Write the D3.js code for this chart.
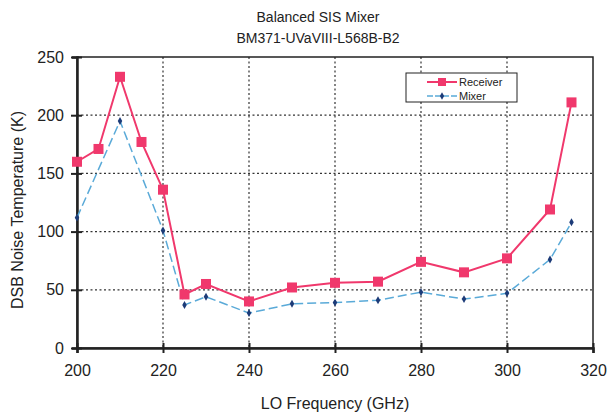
<!DOCTYPE html>
<html>
<head>
<meta charset="utf-8">
<script src="https://cdn.jsdelivr.net/npm/d3@7"></script>
<style>
  body { margin: 0; background: #fff; }
  text { font-family: "Liberation Sans", Arial, sans-serif; fill: #222; }
</style>
</head>
<body>
<div id="chart"></div>
<script>
"use strict";

// LO frequency (GHz) and DSB noise temperature (K)
const receiverFreq = [200, 205, 210, 215, 220, 225, 230, 240, 250, 260, 270, 280, 290, 300, 310, 315];
const receiverTemp = [160, 171, 233, 177, 136, 46, 55, 40, 52, 56, 57, 74, 65, 77, 119, 211];
const mixerFreq = [200, 210, 220, 225, 230, 240, 250, 260, 270, 280, 290, 300, 310, 315];
const mixerTemp = [112, 195, 101, 37, 44, 30, 38, 39, 41, 48, 42, 47, 76, 108];
const xTicks = [200, 220, 240, 260, 280, 300, 320];
const yTicks = [0, 50, 100, 150, 200, 250];

const width = 612, height = 416;
const plotL = 77, plotR = 593, plotT = 57, plotB = 348;

const x = d3.scaleLinear([200, 320], [plotL, plotR]);
const y = d3.scaleLinear([0, 250], [plotB, plotT]);

const svg = d3.select("#chart").append("svg")
    .attr("width", width)
    .attr("height", height);

// titles
svg.append("text")
    .attr("x", 318).attr("y", 22)
    .attr("text-anchor", "middle")
    .attr("font-size", 14)
    .text("Balanced SIS Mixer");
svg.append("text")
    .attr("x", 318).attr("y", 43)
    .attr("text-anchor", "middle")
    .attr("font-size", 14)
    .text("BM371-UVaVIII-L568B-B2");

// grid
svg.append("g")
    .selectAll("line")
    .data(xTicks.slice(1, -1))
    .join("line")
    .attr("x1", d => x(d)).attr("x2", d => x(d))
    .attr("y1", plotT).attr("y2", plotB)
    .attr("stroke", "#333")
    .attr("stroke-width", 1.2)
    .attr("stroke-dasharray", "2,2.5");
svg.append("g")
    .selectAll("line")
    .data(yTicks.slice(1, -1))
    .join("line")
    .attr("x1", plotL).attr("x2", plotR)
    .attr("y1", d => y(d)).attr("y2", d => y(d))
    .attr("stroke", "#333")
    .attr("stroke-width", 1.2)
    .attr("stroke-dasharray", "2,2.5");

// frame
svg.append("rect")
    .attr("x", plotL).attr("y", plotT)
    .attr("width", plotR - plotL).attr("height", plotB - plotT)
    .attr("fill", "none")
    .attr("stroke", "#222")
    .attr("stroke-width", 1.5);

// axes
svg.append("g")
    .attr("transform", `translate(0,${plotB})`)
    .call(d3.axisBottom(x).tickValues(xTicks).tickSize(5).tickPadding(12))
    .call(g => g.select(".domain").attr("stroke-width", 2.5).attr("stroke", "#222"))
    .call(g => g.selectAll(".tick line").attr("y1", -5).attr("stroke-width", 2).attr("stroke", "#222"))
    .call(g => g.selectAll(".tick text").attr("font-size", 16).attr("font-family", "Liberation Sans, Arial, sans-serif").attr("fill", "#222"));

svg.append("g")
    .attr("transform", `translate(${plotL},0)`)
    .call(d3.axisLeft(y).tickValues(yTicks).tickSize(5).tickPadding(8))
    .call(g => g.select(".domain").attr("stroke-width", 2.5).attr("stroke", "#222"))
    .call(g => g.selectAll(".tick line").attr("x1", 5).attr("x2", -6).attr("stroke-width", 2).attr("stroke", "#222"))
    .call(g => g.selectAll(".tick text").attr("font-size", 16).attr("font-family", "Liberation Sans, Arial, sans-serif").attr("fill", "#222"));

// axis titles
svg.append("text")
    .attr("x", 335).attr("y", 409)
    .attr("text-anchor", "middle")
    .attr("font-size", 16)
    .text("LO Frequency (GHz)");
svg.append("text")
    .attr("transform", "translate(23,210) rotate(-90)")
    .attr("text-anchor", "middle")
    .attr("font-size", 16)
    .text("DSB Noise Temperature  (K)");

const receiver = receiverFreq.map((f, i) => ({f: f, t: receiverTemp[i]}));
const mixer = mixerFreq.map((f, i) => ({f: f, t: mixerTemp[i]}));

const line = d3.line()
    .x(d => x(d.f))
    .y(d => y(d.t));

// mixer series
svg.append("path")
    .attr("fill", "none")
    .attr("stroke", "#5aaad8")
    .attr("stroke-width", 1.5)
    .attr("stroke-dasharray", "9,4")
    .attr("d", line(mixer));
svg.append("g")
    .selectAll("path")
    .data(mixer)
    .join("path")
    .attr("transform", d => `translate(${x(d.f)},${y(d.t)})`)
    .attr("d", d3.symbol(d3.symbolDiamond, 18))
    .attr("fill", "#1c3b78");

// receiver series
svg.append("path")
    .attr("fill", "none")
    .attr("stroke", "#f0386c")
    .attr("stroke-width", 2)
    .attr("d", line(receiver));
svg.append("g")
    .selectAll("rect")
    .data(receiver)
    .join("rect")
    .attr("x", d => x(d.f) - 5)
    .attr("y", d => y(d.t) - 5)
    .attr("width", 10).attr("height", 10)
    .attr("fill", "#f0386c");

// legend
const legend = svg.append("g");
legend.append("rect")
    .attr("x", 406).attr("y", 73)
    .attr("width", 111).attr("height", 29)
    .attr("fill", "#fff")
    .attr("stroke", "#222")
    .attr("stroke-width", 1);
legend.append("line")
    .attr("x1", 427).attr("x2", 457).attr("y1", 82).attr("y2", 82)
    .attr("stroke", "#f0386c").attr("stroke-width", 2);
legend.append("rect")
    .attr("x", 438).attr("y", 78).attr("width", 8).attr("height", 8)
    .attr("fill", "#f0386c");
legend.append("text")
    .attr("x", 459).attr("y", 86)
    .attr("font-size", 11)
    .text("Receiver");
legend.append("line")
    .attr("x1", 427).attr("x2", 457).attr("y1", 96).attr("y2", 96)
    .attr("stroke", "#5aaad8").attr("stroke-width", 1.5)
    .attr("stroke-dasharray", "6,2");
legend.append("path")
    .attr("transform", "translate(442,96)")
    .attr("d", d3.symbol(d3.symbolDiamond, 16))
    .attr("fill", "#1c3b78");
legend.append("text")
    .attr("x", 459).attr("y", 100)
    .attr("font-size", 11)
    .text("Mixer");
</script>
</body>
</html>
